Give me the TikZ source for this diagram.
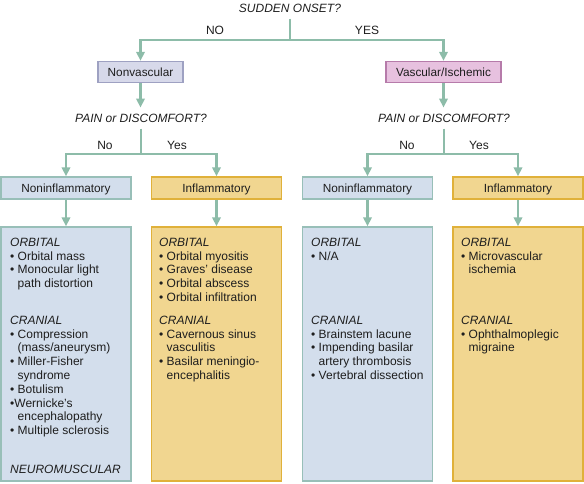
\documentclass[tikz,border=0pt]{standalone}
\usepackage{fontspec}
\setmainfont{Liberation Sans}
\usetikzlibrary{arrows.meta}
\definecolor{lineC}{HTML}{8DBCA9}
\definecolor{txtC}{HTML}{1E1E1E}
\definecolor{nvFill}{HTML}{D7D9EA}
\definecolor{nvDraw}{HTML}{9EA1C2}
\definecolor{viFill}{HTML}{E7C1DF}
\definecolor{viDraw}{HTML}{B67BAA}
\definecolor{niFill}{HTML}{D3DEEC}
\definecolor{niDraw}{HTML}{98BFB8}
\definecolor{infFill}{HTML}{F1D690}
\definecolor{infDraw}{HTML}{E0B13A}
\newcommand{\lfnt}{\fontsize{12}{13.8}\selectfont}
\newcommand{\bfnt}{\fontsize{11.8}{13.8}\selectfont}
\newcommand{\bu}{\textbullet\ }
\newcommand{\ind}{\hphantom{\textbullet\ }}
\begin{document}
\begin{tikzpicture}[x=1pt,y=-1pt,
  every node/.style={text=txtC},
  conn/.style={draw=lineC, line width=2.6pt},
  arr/.style={conn, -{Triangle[width=8.5pt,length=9pt]}},
  question/.style={font=\lfnt\itshape, inner xsep=2pt, inner ysep=6pt, text height=8.6pt, text depth=0pt},
  lbl/.style={font=\lfnt, inner sep=0pt, text height=8.6pt, text depth=0pt},
  catbox/.style={line width=1.5pt, inner sep=0pt, minimum height=21pt, font=\bfnt, text height=8.4pt, text depth=0pt},
  nvbox/.style={catbox, fill=nvFill, draw=nvDraw, minimum width=85pt},
  vibox/.style={catbox, fill=viFill, draw=viDraw, minimum width=115pt},
  nibox/.style={catbox, fill=niFill, draw=niDraw, minimum width=130pt, minimum height=22pt},
  infbox/.style={catbox, fill=infFill, draw=infDraw, minimum width=130pt, minimum height=22pt},
  bignibox/.style={fill=niFill, draw=niDraw, line width=1.5pt, minimum width=130pt, minimum height=254pt, inner sep=0pt},
  biginfbox/.style={fill=infFill, draw=infDraw, line width=1.5pt, minimum width=130pt, minimum height=254pt, inner sep=0pt},
  list/.style={font=\lfnt, align=left, anchor=north west, inner sep=0pt}
]
\useasboundingbox (0,0) rectangle (584,483);

% top level
\node[question] (q1) at (290,8) {SUDDEN ONSET?};
\coordinate (j1) at (290,40);
\node[lbl] (no1) at (215,30) {NO};
\node[lbl] (yes1) at (367,30) {YES};
\node[nvbox] (nv) at (140.5,72) {Nonvascular};
\node[vibox] (vi) at (443.5,72) {Vascular/Ischemic};
\draw[conn] (q1.south) -- (j1);
\draw[arr] (j1) -| (nv.north);
\draw[arr] (j1) -| (vi.north);

% pain questions
\node[question] (p1) at (141,118) {PAIN or DISCOMFORT?};
\node[question] (p2) at (444,118) {PAIN or DISCOMFORT?};
\draw[arr] (nv.south) -- (nv.south |- p1.north);
\draw[arr] (vi.south) -- (vi.south |- p2.north);
\coordinate (j2) at (141,154);
\coordinate (j3) at (444,154);
\node[lbl] (no2) at (105,145) {No};
\node[lbl] (yes2) at (177,145) {Yes};
\node[lbl] (no3) at (407,145) {No};
\node[lbl] (yes3) at (479,145) {Yes};

% category boxes
\node[nibox] (ni1) at (66,188) {Noninflammatory};
\node[infbox] (inf1) at (216.5,188) {Inflammatory};
\node[nibox] (ni2) at (367.5,188) {Noninflammatory};
\node[infbox] (inf2) at (518,188) {Inflammatory};
\draw[conn] (p1.south) -- (j2);
\draw[conn] (p2.south) -- (j3);
\draw[arr] (j2) -| (ni1.north);
\draw[arr] (j2) -| (inf1.north);
\draw[arr] (j3) -| (ni2.north);
\draw[arr] (j3) -| (inf2.north);

% big boxes
\node[bignibox] (b1) at (66,354) {};
\node[biginfbox] (b2) at (216.5,354) {};
\node[bignibox] (b3) at (367.5,354) {};
\node[biginfbox] (b4) at (518,354) {};
\draw[arr] (ni1.south) -- (b1.north);
\draw[arr] (inf1.south) -- (b2.north);
\draw[arr] (ni2.south) -- (b3.north);
\draw[arr] (inf2.south) -- (b4.north);

% column 1
\node[list] (t1a) at (10,237.7) {\textit{ORBITAL}\\ \bu Orbital mass\\ \bu Monocular light\\ \ind path distortion};
\node[list] (t1b) at (10,315.7) {\textit{CRANIAL}\\ \bu Compression\\ \ind (mass/aneurysm)\\ \bu Miller-Fisher\\ \ind syndrome\\ \bu Botulism\\ \textbullet Wernicke's\\ \ind encephalopathy\\ \bu Multiple sclerosis};
\node[list] (t1c) at (10,464.7) {\textit{NEUROMUSCULAR}};
% column 2
\node[list] (t2a) at (159,237.7) {\textit{ORBITAL}\\ \bu Orbital myositis\\ \bu Graves' disease\\ \bu Orbital abscess\\ \bu Orbital infiltration};
\node[list] (t2b) at (159,315.7) {\textit{CRANIAL}\\ \bu Cavernous sinus\\ \ind vasculitis\\ \bu Basilar meningio-\\ \ind encephalitis};
% column 3
\node[list] (t3a) at (311,237.7) {\textit{ORBITAL}\\ \bu N/A};
\node[list] (t3b) at (311,315.7) {\textit{CRANIAL}\\ \bu Brainstem lacune\\ \bu Impending basilar\\ \ind artery thrombosis\\ \bu Vertebral dissection};
% column 4
\node[list] (t4a) at (461,237.7) {\textit{ORBITAL}\\ \bu Microvascular\\ \ind ischemia};
\node[list] (t4b) at (461,315.7) {\textit{CRANIAL}\\ \bu Ophthalmoplegic\\ \ind migraine};
\end{tikzpicture}
\end{document}
